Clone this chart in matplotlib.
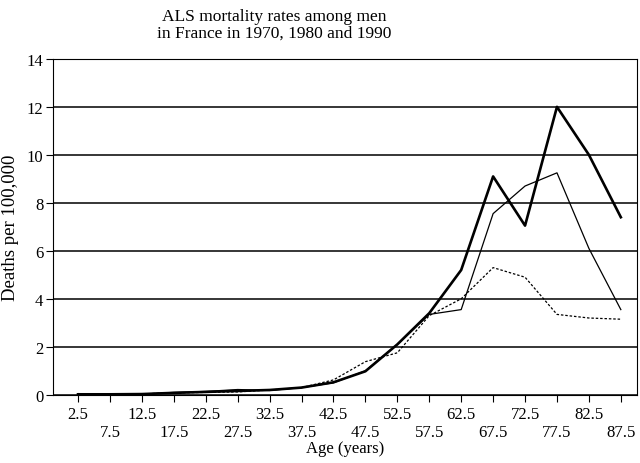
import matplotlib
matplotlib.use('Agg')
import matplotlib.pyplot as plt

plt.rcParams['font.family'] = ['Liberation Serif', 'DejaVu Serif']

ages = [2.5, 7.5, 12.5, 17.5, 22.5, 27.5, 32.5, 37.5, 42.5,
        47.5, 52.5, 57.5, 62.5, 67.5, 72.5, 77.5, 82.5, 87.5]

# thick line
rate_1990 = [0.02, 0.02, 0.03, 0.08, 0.12, 0.16, 0.2, 0.3, 0.52,
             0.98, 2.1, 3.4, 5.2, 9.1, 7.05, 12.0, 10.0, 7.4]
# thin line
rate_1980 = [0.02, 0.02, 0.03, 0.1, 0.14, 0.22, 0.18, 0.3, 0.5,
             1.0, 2.1, 3.35, 3.55, 7.55, 8.7, 9.25, 6.1, 3.55]
# dotted line
rate_1970 = [0.05, 0.03, 0.04, 0.08, 0.1, 0.12, 0.2, 0.3, 0.62,
             1.38, 1.75, 3.3, 4.0, 5.3, 4.9, 3.35, 3.2, 3.15]

yticks = [0, 2, 4, 6, 8, 10, 12, 14]

fig = plt.figure(figsize=(6.4, 4.64), dpi=100)
ax = fig.add_axes([0.083, 0.147, 0.912, 0.724])

for y in yticks:
    ax.axhline(y, color='black', lw=1.1, zorder=1)

ax.plot(ages, rate_1990, color='black', lw=1.9, zorder=3)
ax.plot(ages, rate_1980, color='black', lw=0.9, zorder=3)
ax.plot(ages, rate_1970, color='black', lw=0.9, ls=(0, (2, 1.5)), zorder=3)

ax.set_xlim(-1.4, 90.0)
ax.set_ylim(0, 14)
ax.set_yticks(yticks)
ax.set_xticks(ages)
ax.set_xticklabels([f'{a}' if i % 2 == 0 else f'\n{a}' for i, a in enumerate(ages)])
ax.tick_params(axis='both', direction='out', length=5, width=0.8, labelsize=12)
ax.tick_params(axis='x', pad=3)
ax.tick_params(axis='y', pad=2)

for s in ax.spines.values():
    s.set_linewidth(0.8)

ax.set_ylabel('Deaths per 100,000', fontsize=13.5)
ax.yaxis.set_label_coords(-0.058, 0.5)
ax.set_xlabel('Age (years)', fontsize=12, labelpad=0)
fig.text(0.428, 1 - 9 / 464, 'ALS mortality rates among men\nin France in 1970, 1980 and 1990',
         fontsize=12.5, linespacing=1.05, ha='center', va='top')

fig.savefig('out.png', dpi=100, facecolor='white')
